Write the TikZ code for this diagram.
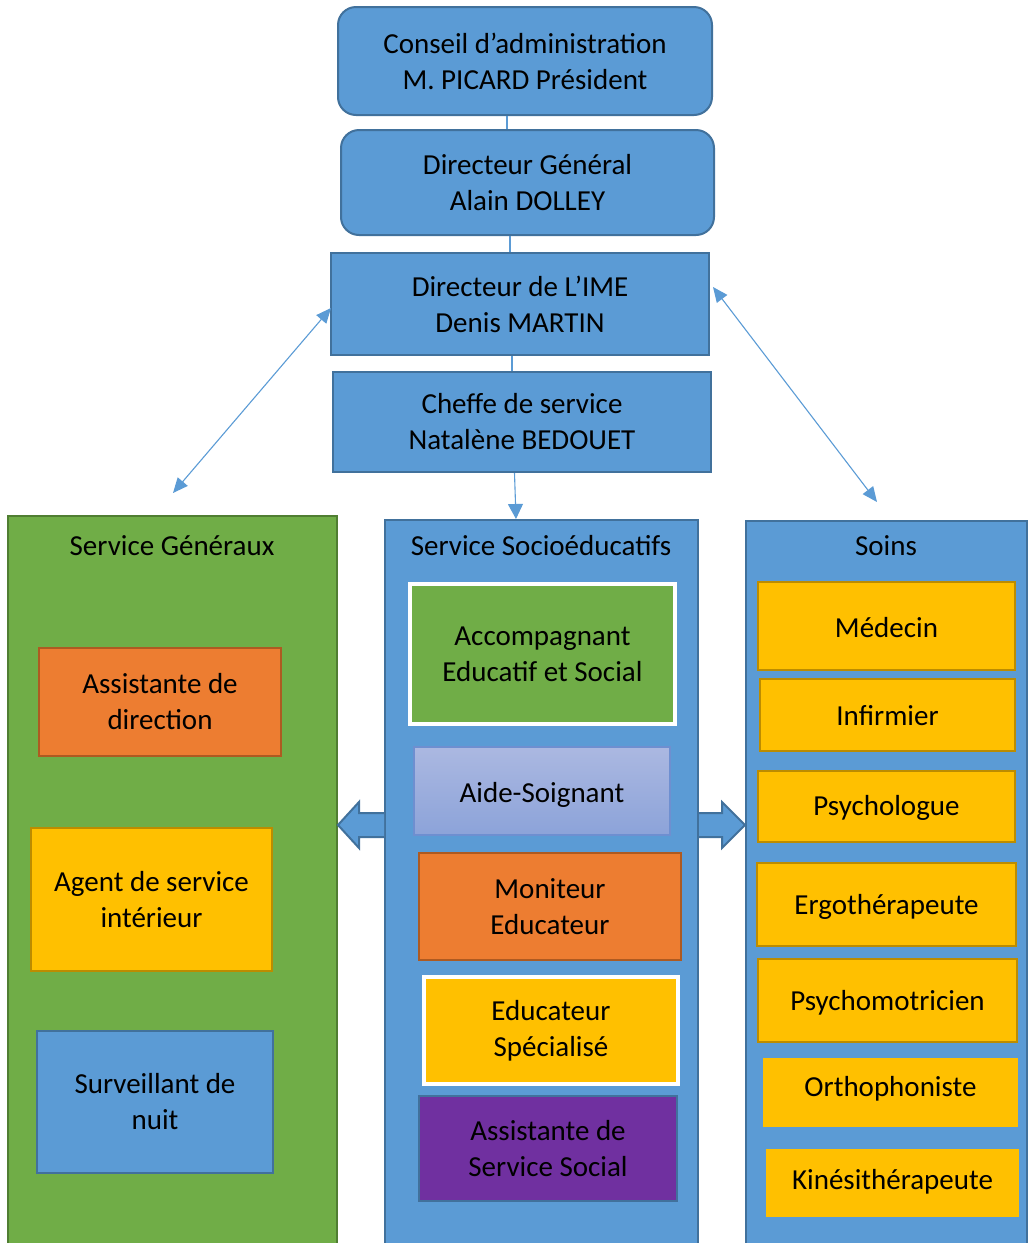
\documentclass[tikz,border=0pt]{standalone}
\usepackage{fontspec}
\setmainfont{Carlito}
\usetikzlibrary{arrows.meta,calc}
\definecolor{bfill}{HTML}{5B9BD5}
\definecolor{bdraw}{HTML}{41719C}
\definecolor{gfill}{HTML}{70AD47}
\definecolor{gdraw}{HTML}{507E32}
\definecolor{ofill}{HTML}{ED7D31}
\definecolor{odraw}{HTML}{AE5A21}
\definecolor{yfill}{HTML}{FFC000}
\definecolor{ydraw}{HTML}{BC8C00}
\definecolor{pfill}{HTML}{7030A0}
\definecolor{atop}{HTML}{ABB8E1}
\definecolor{abot}{HTML}{8CA3D9}
\definecolor{adraw}{HTML}{6E8FD0}
\newcommand\moveup[2]{\raisebox{0pt}[\height][\dimexpr\depth+#1\relax]{#2}}
\newcommand\movedown[2]{\raisebox{0pt}[\dimexpr\height+#1\relax][\depth]{#2}}
\begin{document}
\begin{tikzpicture}[x=1pt,y=-1pt,
  base/.style={inner sep=0pt, align=center, font=\fontsize{29}{36}\selectfont, line width=2pt},
  bluebox/.style={base, fill=bfill, draw=bdraw},
  greenbox/.style={base, fill=gfill, draw=gdraw},
  orangebox/.style={base, fill=ofill, draw=odraw},
  yellowbox/.style={base, fill=yfill, draw=ydraw},
  yellowplain/.style={base, fill=yfill},
  whiteedge/.style={line width=4pt, draw=white},
  purplebox/.style={base, fill=pfill, draw=bdraw},
  aidebox/.style={base, top color=atop, bottom color=abot, draw=adraw, line width=1.5pt},
  title/.style={inner sep=0pt, font=\fontsize{29}{36}\selectfont},
  conn/.style={draw=bfill, line width=1.1pt},
  dbl/.style={conn, {Triangle[length=15pt,width=13pt]}-{Triangle[length=15pt,width=13pt]}},
  one/.style={conn, -{Triangle[length=15pt,width=15pt]}},
  blockarrow/.style={fill=bfill, draw=bdraw, line width=2pt, line join=miter}
]
\useasboundingbox (0,0) rectangle (1030,1243);
\clip (0,0) rectangle (1030,1243);

% top chain
\node[bluebox, rounded corners=18pt, minimum width=374pt, minimum height=108pt] (conseil) at (525,61) {Conseil d’administration\\M. PICARD Président};
\node[bluebox, rounded corners=18pt, minimum width=373pt, minimum height=105pt] (dg) at (527.5,182.5) {Directeur Général\\Alain DOLLEY};
\node[bluebox, minimum width=378pt, minimum height=102pt] (ime) at (520,304) {Directeur de L’IME\\Denis MARTIN};
\node[bluebox, minimum width=378pt, minimum height=100pt] (cheffe) at (522,422) {Cheffe de service\\Natalène BEDOUET};

\coordinate (xa) at (507,0);
\coordinate (xb) at (510,0);
\coordinate (xc) at (512,0);
\draw[conn] (conseil.south -| xa) -- (dg.north -| xa);
\draw[conn] (dg.south -| xb) -- (ime.north -| xb);
\draw[conn] (ime.south -| xc) -- (cheffe.north -| xc);

% columns
\node[greenbox, minimum width=329pt, minimum height=744pt] (colg) at (172.5,888) {};
\node[bluebox, minimum width=313pt, minimum height=740pt] (cols) at (541.5,890) {};
\node[bluebox, minimum width=281pt, minimum height=739pt] (colr) at (886.5,890.5) {};

\node[title] (tg) at (172,546) {Service Généraux};
\node[title] (ts) at (541,546) {Service Socioéducatifs};
\node[title] (tr) at (886,546) {Soins};

% left column content
\node[orangebox, minimum width=242pt, minimum height=108pt] (ad) at (160,702) {Assistante de\\direction};
\node[yellowbox, minimum width=241pt, minimum height=143pt] (asi) at (151.5,899.5) {Agent de service\\intérieur};
\node[bluebox, minimum width=236pt, minimum height=142pt] (sn) at (155,1102) {Surveillant de\\nuit};

% middle column content
\node[greenbox, whiteedge, minimum width=265pt, minimum height=140pt] (aes) at (542.5,654) {Accompagnant\\Educatif et Social};
\node[aidebox, minimum width=256pt, minimum height=88pt] (aide) at (542,791) {\movedown{8pt}{Aide-Soignant}};
\node[orangebox, minimum width=262pt, minimum height=107pt] (me) at (550,906.5) {Moniteur\\Educateur};
\node[yellowbox, whiteedge, minimum width=254pt, minimum height=107pt] (es) at (551,1030.5) {Educateur\\Spécialisé};
\node[purplebox, minimum width=258pt, minimum height=105pt] (ass) at (548,1148.5) {Assistante de\\Service Social};

% right column content
\node[yellowbox, minimum width=257pt, minimum height=88pt] (med) at (886.5,626) {\movedown{3pt}{Médecin}};
\node[yellowbox, minimum width=255pt, minimum height=72pt] (inf) at (887.5,715) {\movedown{2pt}{Infirmier}};
\node[yellowbox, minimum width=257pt, minimum height=71pt] (psy) at (886.5,806.5) {\movedown{3pt}{Psychologue}};
\node[yellowbox, minimum width=259pt, minimum height=83pt] (ergo) at (886.5,904.5) {\movedown{4pt}{Ergothérapeute}};
\node[yellowbox, minimum width=259pt, minimum height=83pt] (psym) at (887.5,1000.5) {\movedown{4pt}{Psychomotricien}};
\node[yellowplain, minimum width=255pt, minimum height=69pt] (ortho) at (890.5,1092.5) {\moveup{7pt}{Orthophoniste}};
\node[yellowplain, minimum width=253pt, minimum height=68pt] (kine) at (892.5,1183) {\moveup{3pt}{Kinésithérapeute}};

% block arrows
\draw[blockarrow] (cols.west |- 0,813) -- (359,813) -- (359,802) -- (colg.east |- 0,825) -- (359,848) -- (359,837) -- (cols.west |- 0,837);
\draw[blockarrow] (cols.east |- 0,813) -- (722,813) -- (722,802) -- (colr.west |- 0,825) -- (722,848) -- (722,837) -- (cols.east |- 0,837);

% connectors
\coordinate (gl) at (173,493);
\coordinate (gr) at (877,502);
\draw[dbl] ($(ime.west)+(1,4)$) -- (gl);
\draw[dbl] ($(ime.east)+(3,-17)$) -- (gr);
\draw[one] ($(cheffe.south)+(-7.5,0)$) -- ($(cols.north)+(-25.5,0)$);
\end{tikzpicture}
\end{document}
